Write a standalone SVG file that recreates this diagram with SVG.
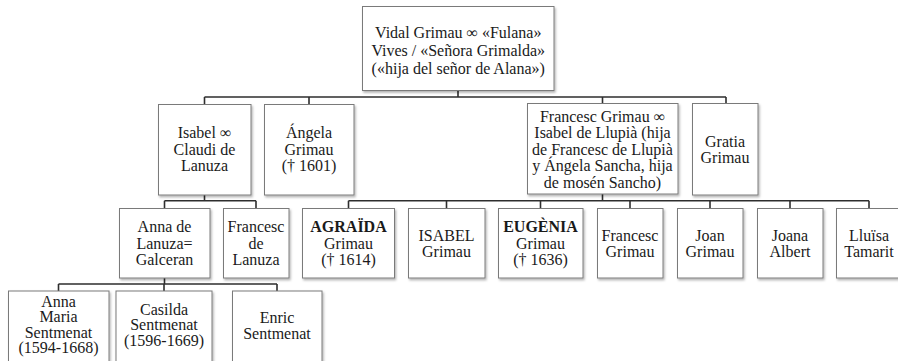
<svg xmlns="http://www.w3.org/2000/svg" width="898" height="361" viewBox="0 0 898 361">
<style>
.box{fill:#fff;stroke:#7a7a7a;stroke-width:1;filter:url(#sh)}
.t{font-family:"Liberation Serif","Times New Roman","DejaVu Serif",serif;font-weight:400;font-size:16px;fill:#1a1a1a;text-anchor:middle}
.b{font-weight:bold}
.c{fill:none;stroke:#2e2e2e;stroke-width:1.6}
</style>
<defs>
<filter id="sh" x="-10%" y="-10%" width="130%" height="130%">
<feDropShadow dx="1.2" dy="1.8" stdDeviation="1" flood-color="#000" flood-opacity="0.3"/>
</filter>
</defs>
<g id="connectors">
<path class="c" d="M458 90.5V97M204.5 97H726M204.5 97V104M309 97V104M602.5 97V103M726 97V103"/>
<path class="c" d="M204.5 195V200.7M164.5 200.7H256M164.5 200.7V208M256 200.7V208"/>
<path class="c" d="M602.5 194V200.7M348.5 200.7H869M348.5 200.7V208M446.5 200.7V208M540.5 200.7V208M630 200.7V208M710 200.7V208M790 200.7V208M869 200.7V208"/>
<path class="c" d="M164.5 278V284M58.5 284H277M58.5 284V291M164 284V291M277 284V291"/>
</g>
<g id="root"><rect class="box" x="362.5" y="6.5" width="191.5" height="84"/>
<text class="t" x="458.25" y="38">Vidal Grimau ∞ «Fulana»</text>
<text class="t" x="458.25" y="56">Vives / «Señora Grimalda»</text>
<text class="t" x="458.25" y="74">(«hija del señor de Alana»)</text></g>
<g id="isabel"><rect class="box" x="158.5" y="104.5" width="92.5" height="90.5"/>
<text class="t" x="204.5" y="138">Isabel ∞</text>
<text class="t" x="204.5" y="154.5">Claudi de</text>
<text class="t" x="204.5" y="171">Lanuza</text></g>
<g id="angela"><rect class="box" x="264.5" y="104.5" width="89.5" height="90.5"/>
<text class="t" x="309" y="138">Ángela</text>
<text class="t" x="309" y="154.5">Grimau</text>
<text class="t" x="309" y="171">(† 1601)</text></g>
<g id="francesc"><rect class="box" x="527.5" y="103.5" width="150.5" height="90.5"/>
<text class="t" x="602.5" y="121.5">Francesc Grimau ∞</text>
<text class="t" x="602.5" y="138">Isabel de Llupià (hija</text>
<text class="t" x="602.5" y="154.5">de Francesc de Llupià</text>
<text class="t" x="602.5" y="171">y Ángela Sancha, hija</text>
<text class="t" x="602.5" y="187.5">de mosén Sancho)</text></g>
<g id="gratia"><rect class="box" x="692.5" y="103.5" width="65.5" height="91.5"/>
<text class="t" x="725" y="146.5">Gratia</text>
<text class="t" x="725" y="163">Grimau</text></g>
<g id="anna"><rect class="box" x="119.5" y="208.5" width="90.5" height="69.5"/>
<text class="t" x="164.5" y="232">Anna de</text>
<text class="t" x="164.5" y="248.5">Lanuza=</text>
<text class="t" x="164.5" y="265">Galceran</text></g>
<g id="francesc-lanuza"><rect class="box" x="223.5" y="208.5" width="65.5" height="69.5"/>
<text class="t" x="256" y="232">Francesc</text>
<text class="t" x="256" y="248.5">de</text>
<text class="t" x="256" y="265">Lanuza</text></g>
<g id="agraida"><rect class="box" x="302.5" y="208.5" width="92" height="69.5"/>
<text class="t b" x="348.5" y="232">AGRAÏDA</text>
<text class="t" x="348.5" y="248.5">Grimau</text>
<text class="t" x="348.5" y="265">(† 1614)</text></g>
<g id="isabel-grimau"><rect class="box" x="408.5" y="208.5" width="76.5" height="69.5"/>
<text class="t" x="446.5" y="240.5">ISABEL</text>
<text class="t" x="446.5" y="257">Grimau</text></g>
<g id="eugenia"><rect class="box" x="498.5" y="208.5" width="84.5" height="69.5"/>
<text class="t b" x="540.5" y="232">EUGÈNIA</text>
<text class="t" x="540.5" y="248.5">Grimau</text>
<text class="t" x="540.5" y="265">(† 1636)</text></g>
<g id="francesc-grimau"><rect class="box" x="597.5" y="208.5" width="65.5" height="69.5"/>
<text class="t" x="630" y="240.5">Francesc</text>
<text class="t" x="630" y="257">Grimau</text></g>
<g id="joan"><rect class="box" x="677.5" y="208.5" width="65.5" height="69.5"/>
<text class="t" x="710" y="240.5">Joan</text>
<text class="t" x="710" y="257">Grimau</text></g>
<g id="joana"><rect class="box" x="757.5" y="208.5" width="65.5" height="69.5"/>
<text class="t" x="790" y="240.5">Joana</text>
<text class="t" x="790" y="257">Albert</text></g>
<g id="lluisa"><rect class="box" x="836.5" y="208.5" width="65.5" height="69.5"/>
<text class="t" x="869" y="240.5">Lluïsa</text>
<text class="t" x="869" y="257">Tamarit</text></g>
<g id="anna-maria"><rect class="box" x="8.5" y="291" width="100.5" height="74"/>
<text class="t" x="58.5" y="306.5">Anna</text>
<text class="t" x="58.5" y="322">Maria</text>
<text class="t" x="58.5" y="337.5">Sentmenat</text>
<text class="t" x="58.5" y="353">(1594-1668)</text></g>
<g id="casilda"><rect class="box" x="116" y="291" width="96" height="74"/>
<text class="t" x="164" y="314.5">Casilda</text>
<text class="t" x="164" y="330">Sentmenat</text>
<text class="t" x="164" y="345.5">(1596-1669)</text></g>
<g id="enric"><rect class="box" x="232.5" y="291" width="89.5" height="74"/>
<text class="t" x="277" y="323">Enric</text>
<text class="t" x="277" y="338.5">Sentmenat</text></g>
</svg>
